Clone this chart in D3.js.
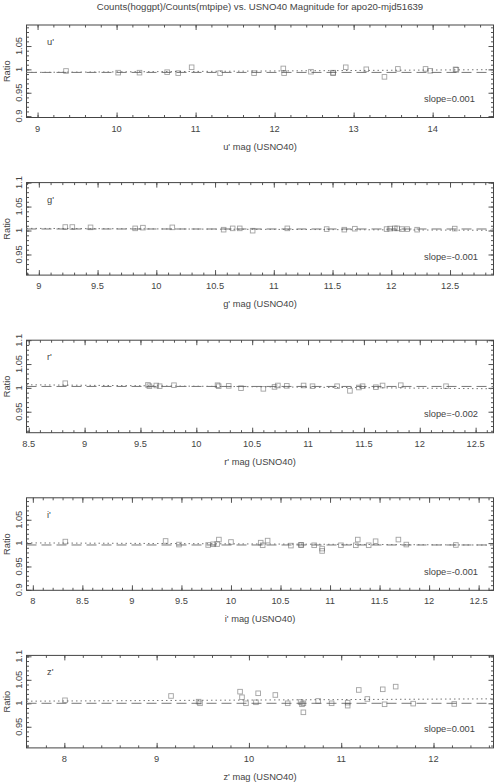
<!DOCTYPE html>
<html>
<head>
<meta charset="utf-8">
<script src="https://cdn.jsdelivr.net/npm/d3@7"></script>
<style>
  body { margin: 0; background: #fff; }
  text { font-family: "Liberation Sans", Arial, sans-serif; fill: #444; }
</style>
</head>
<body>
<svg id="chart" width="500" height="783"></svg>
<script>
// ---- data ----
const chartTitle = "Counts(hoggpt)/Counts(mtpipe) vs. USNO40 Magnitude for apo20-mjd51639";
const bands = ["u'", "g'", "r'", "i'", "z'"];
const slopeLabels = ["slope=0.001", "slope=-0.001", "slope=-0.002", "slope=-0.001", "slope=0.001"];

const xDomains = [[8.86, 14.77], [8.895, 12.87], [8.48, 12.66], [7.936, 12.65], [7.59, 12.65]];
const yDomains = [[0.897, 1.095], [0.907, 1.1], [0.906, 1.1], [0.899, 1.097], [0.905, 1.102]];

const xTicks = [
  [9, 10, 11, 12, 13, 14],
  [9, 9.5, 10, 10.5, 11, 11.5, 12, 12.5],
  [8.5, 9, 9.5, 10, 10.5, 11, 11.5, 12, 12.5],
  [8, 8.5, 9, 9.5, 10, 10.5, 11, 11.5, 12, 12.5],
  [8, 9, 10, 11, 12]
];
const xMinorStep = [0.2, 0.1, 0.1, 0.1, 0.2];
const yTicks = [0.9, 0.95, 1, 1.05, 1.1];
const yMinorStep = 0.01;

// median ratio (dashed) and linear fit values at the two ends of the x range (dotted)
const medianRatio = [0.9935, 1.0032, 1.003, 0.996, 1.0];
const fitEnds = [[0.9935, 0.9994], [1.0045, 1.0005], [1.0065, 0.9981], [1.0005, 0.9958], [1.0045, 1.0095]];

const uMag   = [9.36, 10.02, 10.29, 10.64, 10.78, 10.95, 11.31, 11.74, 12.11, 12.12, 12.46, 12.74, 12.74, 12.90, 13.16, 13.39, 13.56, 13.91, 13.97, 14.29, 14.30];
const uRatio = [0.9966, 0.993, 0.993, 0.994, 0.992, 1.0045, 0.992, 0.992, 1.002, 0.992, 0.995, 0.992, 0.993, 1.0045, 1.0002, 0.984, 1.001, 1.001, 0.997, 1.0, 0.999];

const gMag   = [9.225, 9.285, 9.44, 9.82, 9.886, 10.136, 10.573, 10.65, 10.71, 10.82, 11.115, 11.45, 11.60, 11.69, 11.96, 11.99, 12.03, 12.05, 12.09, 12.135, 12.22, 12.54];
const gRatio = [1.0073, 1.0073, 1.0066, 1.0045, 1.006, 1.0066, 1.0018, 1.0045, 1.0045, 0.9997, 1.0045, 1.003, 1.0018, 1.0038, 1.003, 1.004, 1.0045, 1.0045, 1.003, 1.003, 1.0018, 1.004];

const rMag   = [8.827, 9.567, 9.58, 9.642, 9.672, 9.80, 10.19, 10.2, 10.29, 10.40, 10.60, 10.70, 10.73, 10.81, 10.96, 11.04, 11.26, 11.375, 11.455, 11.488, 11.607, 11.667, 11.83, 12.235];
const rRatio = [1.0098, 1.0062, 1.0035, 1.005, 1.0035, 1.0056, 1.0056, 1.0035, 1.0042, 0.9994, 0.998, 1.002, 1.005, 1.0042, 1.005, 1.0035, 1.0035, 0.9938, 1.0008, 1.0035, 1.0014, 1.005, 1.0056, 1.0035];

const iMag   = [8.328, 9.34, 9.475, 9.77, 9.82, 9.86, 9.878, 10.0, 10.30, 10.32, 10.37, 10.605, 10.706, 10.71, 10.84, 10.92, 10.92, 11.11, 11.26, 11.28, 11.39, 11.46, 11.69, 11.77, 12.27];
const iRatio = [1.0033, 1.0046, 0.9969, 0.996, 0.9975, 0.998, 1.0076, 1.0024, 1.001, 0.9954, 1.0054, 0.9947, 0.996, 0.996, 0.9954, 0.9883, 0.9832, 0.9954, 0.9954, 1.0076, 0.9954, 1.004, 1.0076, 0.9969, 0.996];

const zMag   = [8.007, 9.156, 9.455, 9.47, 9.904, 9.925, 9.968, 10.076, 10.10, 10.286, 10.42, 10.56, 10.575, 10.59, 10.59, 10.75, 10.896, 11.07, 11.07, 11.19, 11.283, 11.45, 11.47, 11.59, 11.78, 12.225];
const zRatio = [1.0064, 1.0156, 1.0035, 1.0, 1.0248, 1.0128, 1.0, 1.0021, 1.0213, 1.0177, 1.0, 1.0028, 0.9979, 1.0, 0.9808, 1.005, 1.0, 0.995, 1.0014, 1.0284, 1.0092, 1.0298, 0.9979, 1.0355, 0.9993, 0.9986];

const mags   = [uMag, gMag, rMag, iMag, zMag];
const ratios = [uRatio, gRatio, rRatio, iRatio, zRatio];

// ---- layout ----
const svg = d3.select("#chart");
const left = 26.5, right = 493.5;
const firstTop = 25, pitch = 157.6, plotH = 92.5;
const fontSize = 9.3;

svg.append("text")
  .attr("x", (left + right) / 2)
  .attr("y", 10)
  .attr("text-anchor", "middle")
  .attr("font-size", 9.6)
  .text(chartTitle);

function minorTicks(domain, step) {
  const start = Math.ceil(domain[0] / step - 1e-6) * step;
  return d3.range(start, domain[1] + 1e-9, step);
}

function drawPanel(i) {
  const top = firstTop + i * pitch;
  const bottom = top + plotH;
  const g = svg.append("g").attr("class", "panel");

  const x = d3.scaleLinear().domain(xDomains[i]).range([left, right]);
  const y = d3.scaleLinear().domain(yDomains[i]).range([bottom, top]);

  const xMinor = minorTicks(xDomains[i], xMinorStep[i]);
  const yMinor = minorTicks(yDomains[i], yMinorStep);
  const yMajor = yTicks.filter(v => v >= yDomains[i][0] - 1e-9 && v <= yDomains[i][1] + 1e-9);

  // ticks on all four sides, pointing inward
  const axes = [
    [d3.axisBottom(x).tickValues(xMinor).tickSize(-2.5), `translate(0,${bottom})`],
    [d3.axisBottom(x).tickValues(xTicks[i]).tickSize(-5), `translate(0,${bottom})`],
    [d3.axisTop(x).tickValues(xMinor).tickSize(-2.5), `translate(0,${top})`],
    [d3.axisTop(x).tickValues(xTicks[i]).tickSize(-5), `translate(0,${top})`],
    [d3.axisLeft(y).tickValues(yMinor).tickSize(-2.5), `translate(${left},0)`],
    [d3.axisLeft(y).tickValues(yMajor).tickSize(-5), `translate(${left},0)`],
    [d3.axisRight(y).tickValues(yMinor).tickSize(-2.5), `translate(${right},0)`],
    [d3.axisRight(y).tickValues(yMajor).tickSize(-5), `translate(${right},0)`]
  ];
  axes.forEach(([ax, tr]) => {
    const a = g.append("g").attr("transform", tr)
      .call(ax.tickSizeOuter(0).tickFormat(""));
    a.select(".domain").remove();
    a.selectAll("line").attr("stroke", "#555");
  });

  g.append("rect")
    .attr("x", left).attr("y", top)
    .attr("width", right - left).attr("height", plotH)
    .attr("fill", "none").attr("stroke", "#444").attr("stroke-width", 1);

  // x tick labels
  g.selectAll("text.xlab").data(xTicks[i]).join("text")
    .attr("class", "xlab")
    .attr("x", d => x(d))
    .attr("y", bottom + 14)
    .attr("text-anchor", "middle")
    .attr("font-size", fontSize)
    .text(d => String(d));

  // y tick labels, rotated
  g.selectAll("text.ylab").data(yMajor).join("text")
    .attr("class", "ylab")
    .attr("transform", d => `translate(18.5,${y(d)}) rotate(-90)`)
    .attr("text-anchor", "middle")
    .attr("dy", "0.35em")
    .attr("font-size", fontSize)
    .text(d => String(d));

  g.append("text")
    .attr("transform", `translate(7,${(top + bottom) / 2}) rotate(-90)`)
    .attr("text-anchor", "middle")
    .attr("dy", "0.35em")
    .attr("font-size", fontSize)
    .text("Ratio");

  g.append("text")
    .attr("x", (left + right) / 2)
    .attr("y", bottom + 32)
    .attr("text-anchor", "middle")
    .attr("font-size", fontSize)
    .text(`${bands[i]} mag (USNO40)`);

  g.append("text")
    .attr("x", 47)
    .attr("y", top + 20)
    .attr("font-size", fontSize)
    .text(bands[i]);

  g.append("text")
    .attr("x", 424)
    .attr("y", top + 77)
    .attr("font-size", fontSize)
    .text(slopeLabels[i]);

  // median level (dashed) and fit (dotted)
  const line = d3.line().x(d => x(d[0])).y(d => y(d[1]));
  g.append("path")
    .datum(xDomains[i].map(v => [v, medianRatio[i]]))
    .attr("d", line)
    .attr("fill", "none").attr("stroke", "#777").attr("stroke-width", 1)
    .attr("stroke-dasharray", "10,5");
  g.append("path")
    .datum(xDomains[i].map((v, k) => [v, fitEnds[i][k]]))
    .attr("d", line)
    .attr("fill", "none").attr("stroke", "#777").attr("stroke-width", 1)
    .attr("stroke-dasharray", "1.5,3");

  // points
  const pts = mags[i].map((m, k) => ({ m, r: ratios[i][k] }));
  const s = 4.6;
  g.selectAll("rect.pt").data(pts).join("rect")
    .attr("class", "pt")
    .attr("x", d => x(d.m) - s / 2)
    .attr("y", d => y(d.r) - s / 2)
    .attr("width", s).attr("height", s)
    .attr("fill", "none")
    .attr("stroke", "#555")
    .attr("stroke-opacity", 0.55)
    .attr("stroke-width", 0.9);
}

bands.forEach((b, i) => drawPanel(i));
</script>
</body>
</html>
